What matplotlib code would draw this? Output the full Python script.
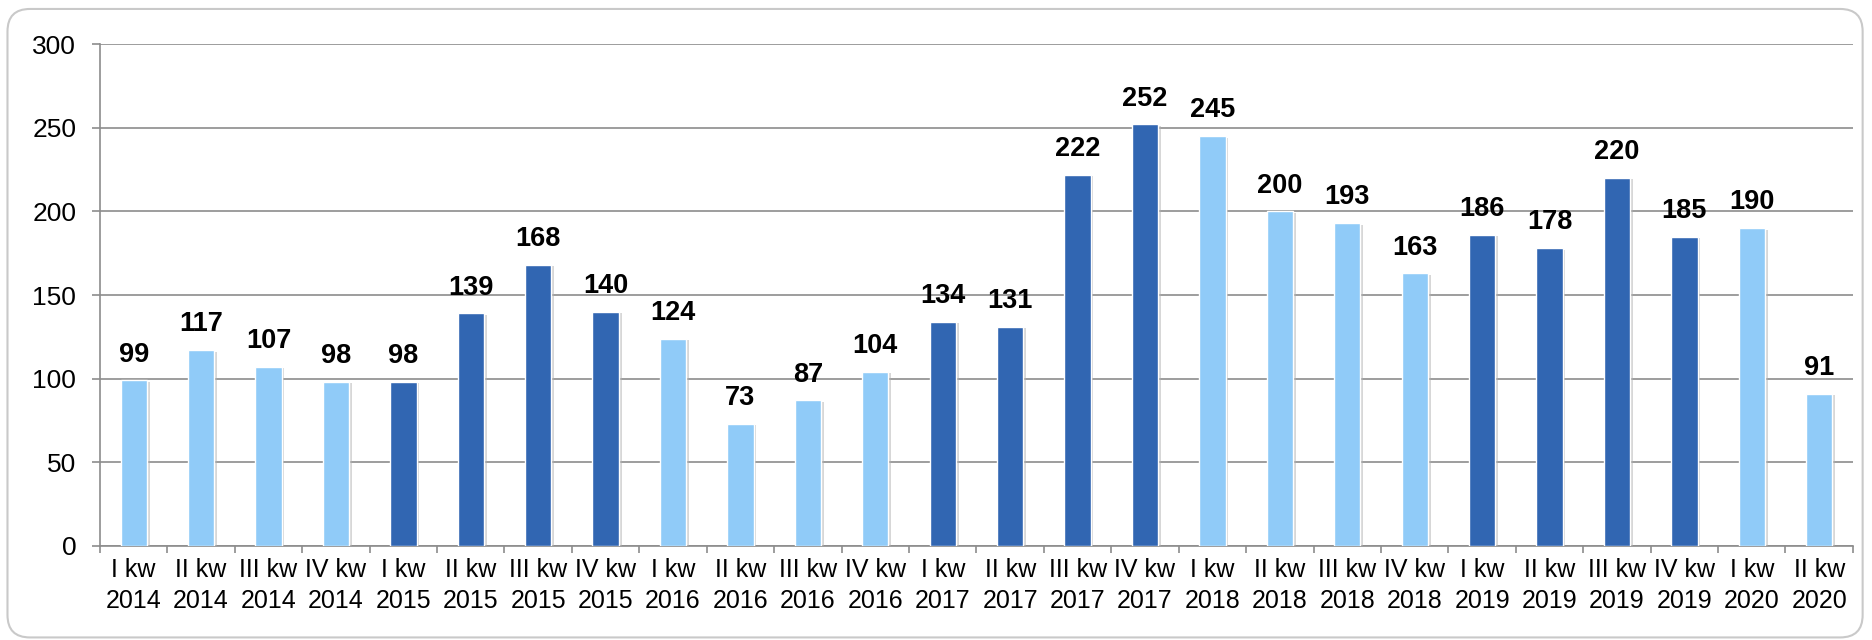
import matplotlib
matplotlib.use("Agg")
import matplotlib.pyplot as plt
import matplotlib.patheffects as pe
from matplotlib.patches import FancyBboxPatch
import numpy as np

plt.rcParams['font.family'] = ['Liberation Sans', 'DejaVu Sans']

# dane kwartalne
quarters = ["I", "II", "III", "IV"] * 6 + ["I", "II"]
years = [y for y in range(2014, 2020) for _ in range(4)] + [2020, 2020]
labels = [f"{q} kw\n{y}" for q, y in zip(quarters, years)]
values = [99, 117, 107, 98, 98, 139, 168, 140, 124, 73, 87, 104, 134, 131,
          222, 252, 245, 200, 193, 163, 186, 178, 220, 185, 190, 91]

light = "#90CBF8"
dark = "#3166B2"
year_color = {2014: light, 2015: dark, 2016: light, 2017: dark,
              2018: light, 2019: dark, 2020: light}
colors = [year_color[y] for y in years]

fig = plt.figure(figsize=(18.72, 6.4), dpi=100)
ax = fig.add_axes([0.0534, 0.147, 0.9364, 0.784])

# ramka z zaokrąglonymi rogami
frame = FancyBboxPatch((0.004, 0.004), 0.991, 0.982, transform=fig.transFigure,
                       boxstyle="round,pad=0,rounding_size=0.012",
                       facecolor="none", edgecolor="#c9c9c9", linewidth=1.5,
                       mutation_aspect=18.72 / 6.4)
fig.patches.append(frame)

x = np.arange(len(values))
bars = ax.bar(x, values, width=0.39, color=colors, edgecolor="white",
              linewidth=1.0, zorder=3)
for b in bars:
    b.set_path_effects([pe.SimplePatchShadow(offset=(2, -1), shadow_rgbFace="#b0b0b0", alpha=0.5),
                        pe.Normal()])

for xi, v in zip(x, values):
    ax.annotate(str(v), (xi, v), xytext=(0, 13.5), textcoords="offset points",
                ha="center", va="baseline", fontsize=19.5, fontweight="bold",
                color="black")

ax.set_xlim(-0.5, len(values) - 0.5)
ax.set_ylim(0, 300)
ax.set_yticks(range(0, 301, 50))
ax.yaxis.grid(True, color="#8c8c8c", linewidth=1.2, zorder=0)
ax.set_axisbelow(True)

ax.set_xticks(x)
ax.set_xticklabels(labels, fontsize=18, linespacing=1.35)
ax.set_xticks(np.arange(-0.5, len(values)), minor=True)
ax.tick_params(axis="x", which="major", length=0, pad=9)
ax.tick_params(axis="x", which="minor", length=5, color="#8c8c8c", width=1.2)
ax.tick_params(axis="y", length=6, color="#8c8c8c", width=1.2, labelsize=19, pad=11)

for s in ["top", "right"]:
    ax.spines[s].set_visible(False)
for s in ["left", "bottom"]:
    ax.spines[s].set_color("#8c8c8c")
    ax.spines[s].set_linewidth(1.2)

fig.savefig("out.png", dpi=100)
